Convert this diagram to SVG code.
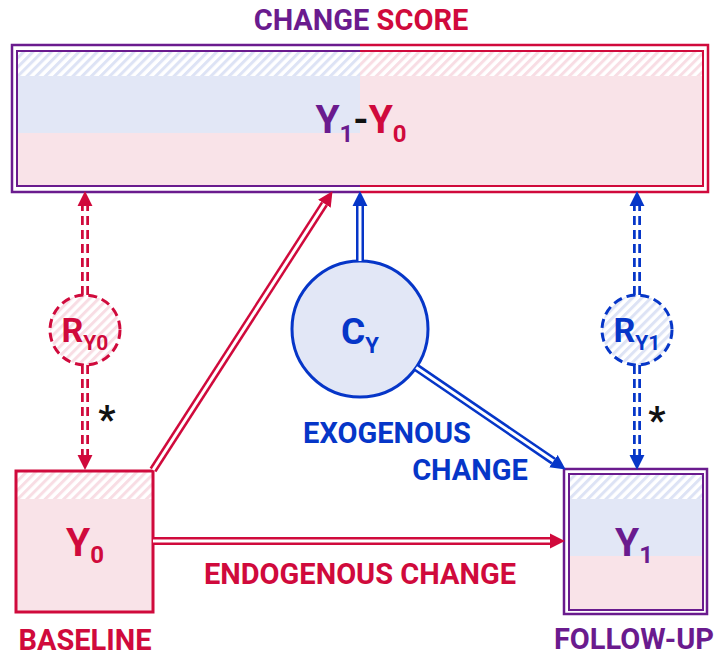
<svg xmlns="http://www.w3.org/2000/svg" width="714" height="656" viewBox="0 0 714 656">
<style>
text{font-family:Roboto,"Liberation Sans",sans-serif;font-weight:700}
.pur{fill:#6a1b8e}.red{fill:#d00a3c}.blu{fill:#0636c8}.blk{fill:#111}
.lbl{font-size:29px;text-anchor:middle}
.sym{font-size:39px;text-anchor:middle}
.sub{font-size:24px}
.pkfill{fill:#f9e3e8}.blfill{fill:#e2e7f6}
.w{stroke:#fff;fill:none}
</style>
<defs>
<pattern id="hb" patternUnits="userSpaceOnUse" width="6.5" height="6.5" patternTransform="rotate(45)">
<rect width="6.5" height="6.5" fill="#fff"/><rect width="3" height="6.5" fill="#dde3f5"/>
</pattern>
<pattern id="hp" patternUnits="userSpaceOnUse" width="6.5" height="6.5" patternTransform="rotate(45)">
<rect width="6.5" height="6.5" fill="#fff"/><rect width="3" height="6.5" fill="#f8dde4"/>
</pattern>
<marker id="ar" markerUnits="userSpaceOnUse" markerWidth="16" markerHeight="16" refX="0" refY="7" orient="auto" viewBox="0 0 15 14">
<path d="M0,0 L14,7 L0,14 z" fill="#d00a3c"/>
</marker>
<marker id="ab" markerUnits="userSpaceOnUse" markerWidth="16" markerHeight="16" refX="0" refY="7" orient="auto" viewBox="0 0 15 14">
<path d="M0,0 L14,7 L0,14 z" fill="#0636c8"/>
</marker>
</defs>
<rect width="714" height="656" fill="#fff"/>

<text class="lbl" x="361" y="30"><tspan class="pur">CHANGE </tspan><tspan class="red">SCORE</tspan></text>

<g id="change-score">
<rect x="18" y="52" width="342" height="24" fill="url(#hb)"/>
<rect x="360" y="52" width="342" height="24" fill="url(#hp)"/>
<rect x="18" y="76" width="342" height="57" class="blfill"/>
<rect x="18" y="133" width="342" height="52" class="pkfill"/>
<rect x="360" y="76" width="342" height="109" class="pkfill"/>
<path d="M360,45 H12 V192 H360" fill="none" stroke="#6a1b8e" stroke-width="2.5"/>
<path d="M360,51 H17 V186 H360" fill="none" stroke="#6a1b8e" stroke-width="2"/>
<path d="M360,45 H708 V192 H360" fill="none" stroke="#d00a3c" stroke-width="2.5"/>
<path d="M360,51 H703 V186 H360" fill="none" stroke="#d00a3c" stroke-width="2"/>
<text class="sym" x="361" y="133" font-size="40"><tspan class="pur">Y</tspan><tspan class="pur sub" dy="9">1</tspan><tspan class="blk" dy="-9">-</tspan><tspan class="red">Y</tspan><tspan class="red sub" dy="9">0</tspan></text>
</g>

<g id="y0">
<rect x="16" y="471" width="137" height="28" fill="url(#hp)"/>
<rect x="16" y="499" width="137" height="113" class="pkfill"/>
<rect x="16" y="471" width="137" height="141" fill="none" stroke="#d00a3c" stroke-width="3"/>
<text class="sym red" x="85" y="556">Y<tspan class="sub" dy="7">0</tspan></text>
<text class="lbl red" x="85" y="650">BASELINE</text>
</g>

<g id="y1">
<rect x="569" y="474" width="134" height="25" fill="url(#hb)"/>
<rect x="569" y="499" width="134" height="57" class="blfill"/>
<rect x="569" y="556" width="134" height="54" class="pkfill"/>
<rect x="564" y="469" width="143" height="145" fill="none" stroke="#6a1b8e" stroke-width="2.5"/>
<rect x="569" y="474" width="134" height="136" fill="none" stroke="#6a1b8e" stroke-width="2"/>
<text class="sym pur" x="634" y="556">Y<tspan class="sub" dy="7">1</tspan></text>
<text class="lbl pur" x="634" y="649">FOLLOW-UP</text>
</g>

<g id="cy">
<circle cx="360" cy="329" r="68" fill="#e2e7f6" stroke="#0636c8" stroke-width="3"/>
<text class="blu" x="360" y="344" font-size="37" text-anchor="middle">C<tspan font-size="22" dy="9">Y</tspan></text>
</g>

<g id="ry0">
<circle cx="85" cy="330" r="35" fill="url(#hp)" stroke="#d00a3c" stroke-width="3" stroke-dasharray="9 5"/>
<text class="red" x="85" y="342" font-size="34" text-anchor="middle">R<tspan font-size="21" dy="8">Y0</tspan></text>
</g>

<g id="ry1">
<circle cx="637" cy="330" r="35" fill="url(#hb)" stroke="#0636c8" stroke-width="3" stroke-dasharray="9 5"/>
<text class="blu" x="637" y="342" font-size="34" text-anchor="middle">R<tspan font-size="21" dy="8">Y1</tspan></text>
</g>

<g id="connectors" fill="none">
<path d="M153,470 L324.4,203.8" stroke="#d00a3c" stroke-width="8" marker-end="url(#ar)"/>
<path d="M153,470 L324.4,203.8" class="w" stroke-width="3"/>
<path d="M153,541 H550" stroke="#d00a3c" stroke-width="8" marker-end="url(#ar)"/>
<path d="M153,541 H550" class="w" stroke-width="3"/>
<path d="M360,261 V206" stroke="#0636c8" stroke-width="8" marker-end="url(#ab)"/>
<path d="M360,261 V206" class="w" stroke-width="3"/>
<path d="M416.2,367.4 L553.4,461.1" stroke="#0636c8" stroke-width="8" marker-end="url(#ab)"/>
<path d="M416.2,367.4 L553.4,461.1" class="w" stroke-width="3"/>
<path d="M85,295 V206" stroke="#d00a3c" stroke-width="8" stroke-dasharray="9 5" marker-end="url(#ar)"/>
<path d="M85,295 V206" class="w" stroke-width="2.5"/>
<path d="M85,365 V455" stroke="#d00a3c" stroke-width="8" stroke-dasharray="9 5" marker-end="url(#ar)"/>
<path d="M85,365 V455" class="w" stroke-width="2.5"/>
<path d="M637,295 V206" stroke="#0636c8" stroke-width="8" stroke-dasharray="9 5" marker-end="url(#ab)"/>
<path d="M637,295 V206" class="w" stroke-width="2.5"/>
<path d="M637,365 V455" stroke="#0636c8" stroke-width="8" stroke-dasharray="9 5" marker-end="url(#ab)"/>
<path d="M637,365 V455" class="w" stroke-width="2.5"/>
</g>

<text class="blk" x="107" y="433" font-size="38" text-anchor="middle">*</text>
<text class="blk" x="657" y="434" font-size="38" text-anchor="middle">*</text>
<text class="lbl blu" x="387" y="443">EXOGENOUS</text>
<text class="lbl blu" x="470" y="480">CHANGE</text>
<text class="lbl red" x="360" y="584">ENDOGENOUS CHANGE</text>
</svg>
